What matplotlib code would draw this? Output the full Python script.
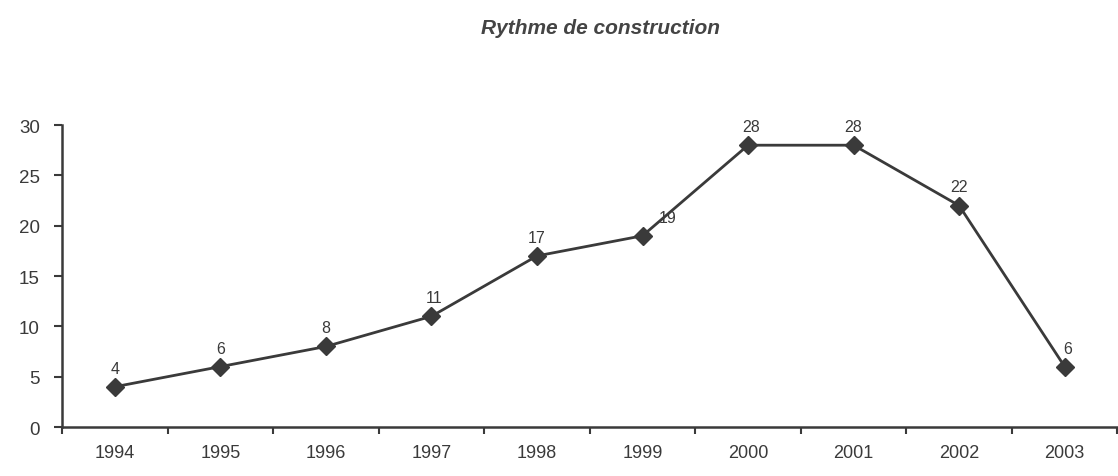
import matplotlib
matplotlib.use("Agg")
import matplotlib.pyplot as plt
import numpy as np

years = ["1994", "1995", "1996", "1997", "1998", "1999", "2000", "2001", "2002", "2003"]
values = [4, 6, 8, 11, 17, 19, 28, 28, 22, 6]
# label offsets in points (dx)
label_dx = [0, 0, 0, 2, 0, 18, 2, 0, 0, 2]

plt.rcParams["font.family"] = ["Liberation Sans", "DejaVu Sans"]
ink = "#3a3a3a"

fig = plt.figure(figsize=(11.18, 4.77), dpi=100)
ax = fig.add_axes([0.0555, 0.1027, 0.944, 0.633])

x = np.arange(len(years))
ax.plot(x, values, color=ink, lw=2, marker="D", markersize=9, markerfacecolor=ink,
        markeredgecolor=ink, zorder=3)
for xi, v, dx in zip(x, values, label_dx):
    ax.annotate(str(v), (xi, v), xytext=(dx, 8), textcoords="offset points",
                ha="center", va="bottom", fontsize=11.5, color=ink)

ax.set_xlim(-0.5, len(years) - 0.5)
ax.set_ylim(0, 30)
ax.set_yticks(range(0, 31, 5))
ax.set_xticks(np.arange(len(years) + 1) - 0.5)
ax.set_xticklabels([])
ax.set_xticks(x, minor=True)
ax.set_xticklabels(years, minor=True, fontsize=13, color=ink)
ax.tick_params(axis="x", which="minor", length=0, pad=12)
ax.tick_params(axis="x", which="major", length=5, width=1.5, color=ink, direction="out")
ax.tick_params(axis="y", length=6, width=1.5, color=ink, labelsize=13.5, labelcolor=ink, pad=10)

for side in ["top", "right"]:
    ax.spines[side].set_visible(False)
for side in ["left", "bottom"]:
    ax.spines[side].set_color(ink)
    ax.spines[side].set_linewidth(1.8)

fig.text(0.537, 0.94, "Rythme de construction", ha="center", va="center",
         fontsize=15, style="italic", weight="bold", color="#444444")

fig.savefig("out.png", dpi=100)
